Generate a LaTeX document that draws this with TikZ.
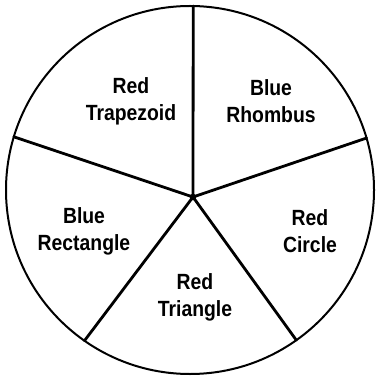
\documentclass[tikz,border=0pt]{standalone}
\usepackage{fontspec}
\setmainfont{Liberation Sans}[FakeStretch=0.88]
\usetikzlibrary{calc}
\begin{document}
\begin{tikzpicture}[x=0.75pt,y=-0.75pt,
  spoke/.style={line width=2.1pt,line cap=round},
  rim/.style={line width=1.5pt},
  lbl/.style={align=center,inner sep=0pt,font=\fontsize{16.5}{20.3}\selectfont\bfseries}]
\useasboundingbox (0,0) rectangle (375,377);
\coordinate (C) at (190,190);
\coordinate (H) at (193,197);
\draw[rim] (C) circle[radius=138pt];
\coordinate (pT) at ($(C)+(89:138pt)$);
\coordinate (pR) at ($(C)+(16.4:138pt)$);
\coordinate (pL) at ($(C)+(163.2:138pt)$);
\coordinate (pBL) at ($(C)+(235:138pt)$);
\coordinate (pBR) at ($(C)+(305.3:138pt)$);
\foreach \p in {pT,pR,pL,pBL,pBR} \draw[spoke] (H) -- (\p);
\fill (H) circle[radius=2.5pt];
\node[lbl] (trap) at (131,101) {Red\\Trapezoid};
\node[lbl] (rhom) at (271,101) {Blue\\Rhombus};
\node[lbl] (rect) at (84,231) {Blue\\Rectangle};
\node[lbl] (circ) at (310,231) {Red\\Circle};
\node[lbl] (tri) at (195,297) {Red\\Triangle};
\end{tikzpicture}
\end{document}
